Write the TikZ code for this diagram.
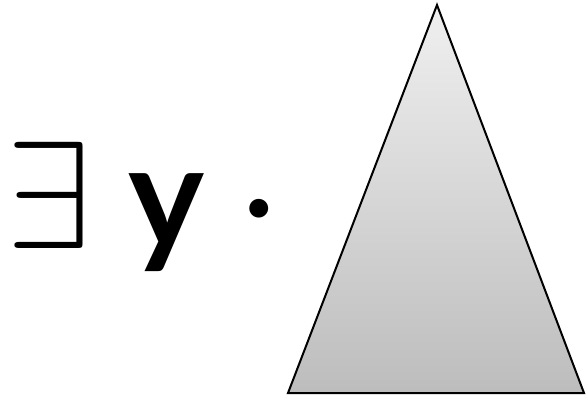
\documentclass[tikz,border=0pt]{standalone}
\usepackage{fix-cm}
\usepackage{fontspec}
\newfontfamily\lato{Lato}
\begin{document}
\begin{tikzpicture}[x=1pt,y=-1pt,
  sym/.style={inner sep=0pt,outer sep=0pt}]
\useasboundingbox (0,0) rectangle (586,397);
\coordinate (apex) at (437,5);
\coordinate (bl) at (288,393);
\coordinate (br) at (584,393);
\shade[top color=black!6,bottom color=black!26] (apex) -- (br) -- (bl) -- cycle;
\draw[line width=2pt,line join=miter] (apex) -- (br) -- (bl) -- cycle;
\node[sym,anchor=base west,font=\fontsize{153}{153}\selectfont] (ex) at (6,248) {$\exists$};
\node[sym,anchor=base west,font=\lato\bfseries\fontsize{144}{144}\selectfont] (yv) at (128,247) {y};
\node[sym,anchor=base,font=\lato\bfseries\fontsize{100}{100}\selectfont] (dt) at (259,238) {·};
\end{tikzpicture}
\end{document}
